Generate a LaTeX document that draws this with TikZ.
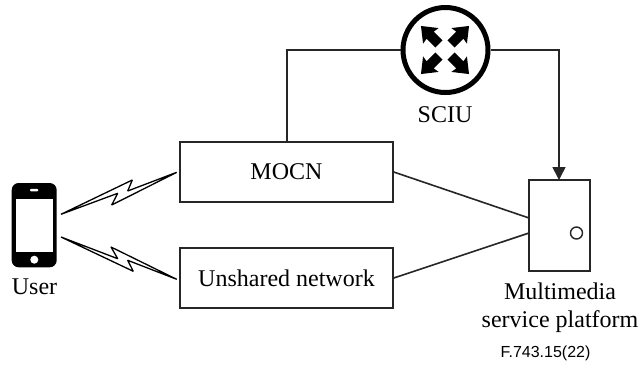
\documentclass[tikz,border=0pt]{standalone}
\usepackage{fontspec}
\setmainfont{Liberation Serif}
\newfontfamily\notefont{Liberation Sans}
\usetikzlibrary{arrows.meta}
\tikzset{
  boxnode/.style={draw=black!85,line width=1.5pt,fill=white,inner sep=0pt,font=\fontsize{24}{28}\selectfont},
  lbl/.style={inner sep=0pt,align=center,font=\fontsize{24}{28}\selectfont},
  conn/.style={draw=black!85,line width=1.6pt},
  bolt/.style={draw=black,fill=white,line width=1.3pt,line join=bevel},
  blockarrow/.style={fill=black,draw=none},
}
\begin{document}
\begin{tikzpicture}[x=1pt,y=-1pt]
\useasboundingbox (0,0) rectangle (638,365);
\fill[white] (0,0) rectangle (638,365);
% boxes
\node[boxnode,minimum width=213pt,minimum height=60pt] (mocn) at (286.5,172) {MOCN};
\node[boxnode,minimum width=213pt,minimum height=60pt] (unshared) at (286.5,278) {Unshared network};
\node[boxnode,minimum width=61pt,minimum height=91pt] (platform) at (559.5,225.5) {};
\node[draw=black!85,line width=1.4pt,circle,minimum size=12pt,inner sep=0pt] (port) at (576.5,233) {};
\node[draw=black,line width=5pt,fill=white,circle,minimum size=85pt,inner sep=0pt] (sciu) at (445.5,50) {};
% block arrows in the switch
\foreach \a in {45,135,225,315}{
  \fill[blockarrow,shift={(445,50)},rotate=\a]
    (8.5,-5) -- (21,-5) -- (20,-11) -- (34,0) -- (20,11) -- (21,5) -- (8.5,5) -- cycle;
}
% connector anchors
\coordinate (mocnTop) at (287,142);
\coordinate (bendL) at (287,50);
\coordinate (bendR) at (559,50);
\coordinate (platTop) at (559,180);
\coordinate (platA) at (529,218);
\coordinate (platB) at (529,233);
\draw[conn] (mocnTop) -- (bendL) -- (sciu.west);
\draw[conn,-{Triangle[length=13pt,width=13pt]}] (sciu.east) -- (bendR) -- (platTop);
\draw[conn] (mocn.east) -- (platA);
\draw[conn] (unshared.east) -- (platB);
% phone
\fill[black,rounded corners=7pt] (11.7,183) rectangle (56.7,267.3);
\fill[white] (16,199) rectangle (52.7,252);
\fill[white,rounded corners=1pt] (30,188.8) rectangle (38.3,191.4);
\fill[white] (34.3,259.7) circle (4pt);
% lightning bolts
\draw[bolt] (61,214.3) -- (132.3,180) -- (127.7,191) -- (176.7,172.3) -- (111.7,205) -- (117.7,193.3) -- cycle;
\draw[bolt] (61,237) -- (133.3,271.3) -- (127.7,260.3) -- (176.7,279.3) -- (111,247) -- (117.7,258.7) -- cycle;
% labels
\node[lbl] (userlbl) at (34.5,287) {User};
\node[lbl] (sciulbl) at (445,115) {SCIU};
\node[lbl] (platlbl) at (560,308) {Multimedia\\service platform};
\node[inner sep=0pt,font=\notefont\fontsize{16}{18}\selectfont] (code) at (545.5,353) {F.743.15(22)};
\end{tikzpicture}
\end{document}
